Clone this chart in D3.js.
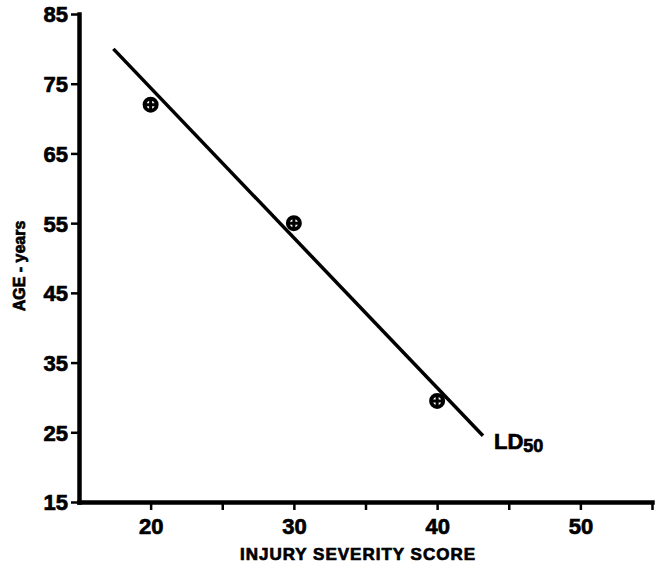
<!DOCTYPE html>
<html>
<head>
<meta charset="utf-8">
<script src="https://cdn.jsdelivr.net/npm/d3@7"></script>
<style>
  body { margin: 0; background: #fff; }
  text { font-family: "Liberation Sans", Arial, Helvetica, sans-serif; font-weight: bold; fill: #000; stroke: #000; stroke-width: 0.7px; }
</style>
</head>
<body>
<div id="viz"></div>
<script>
// observed points (injury severity score -> age)
var issValues = [20, 30, 40];
var ageValues = [72, 55, 29.5];
// LD50 regression line end points
var lineIss = [17.4, 43.2];
var lineAge = [80, 24.5];
// axis ticks
var xTicks = [20, 25, 30, 35, 40, 45, 50, 55];
var xLabels = [20, 30, 40, 50];
var yTicks = [15, 25, 35, 45, 55, 65, 75, 85];

var width = 657, height = 564;

var svg = d3.select("#viz").append("svg")
  .attr("width", width)
  .attr("height", height);

// scales
var xScale = d3.scaleLinear().domain([15, 55]).range([79, 652]);
var yScale = d3.scaleLinear().domain([15, 85]).range([502, 14]);

// x-axis
var xAxis = d3.axisBottom(xScale)
  .tickValues(xTicks)
  .tickSizeOuter(0)
  .tickSizeInner(8)
  .tickPadding(8)
  .tickFormat(function (d) { return xLabels.indexOf(d) >= 0 ? d : ""; });

var gx = svg.append("g")
  .attr("transform", "translate(0," + yScale(15) + ")")
  .call(xAxis);

// y-axis
var yAxis = d3.axisLeft(yScale)
  .tickValues(yTicks)
  .tickSizeOuter(0)
  .tickSizeInner(8)
  .tickPadding(3);

var gy = svg.append("g")
  .attr("transform", "translate(" + xScale(15) + ",0)")
  .call(yAxis);

// restyle both axes
[gx, gy].forEach(function (g) {
  g.attr("font-size", null).attr("font-family", null);
  g.select(".domain").attr("stroke", "#000").attr("stroke-width", 4.5).attr("stroke-linecap", "square");
  g.selectAll(".tick line").attr("stroke", "#000").attr("stroke-width", 2.5);
  g.selectAll(".tick text").style("font-size", "22px");
});
gx.selectAll(".tick text").attr("dy", "0.71em");
gy.selectAll(".tick text").attr("dy", "0.36em");

// axis titles
svg.append("text")
  .attr("x", 358)
  .attr("y", 560)
  .style("text-anchor", "middle")
  .style("font-size", "17px")
  .style("letter-spacing", "1px")
  .text("INJURY SEVERITY SCORE");

svg.append("text")
  .attr("transform", "translate(25,266) rotate(-90)")
  .style("text-anchor", "middle")
  .style("font-size", "16px")
  .text("AGE - years");

// LD50 line
svg.append("line")
  .attr("x1", xScale(lineIss[0]))
  .attr("y1", yScale(lineAge[0]))
  .attr("x2", xScale(lineIss[1]))
  .attr("y2", yScale(lineAge[1]))
  .attr("stroke", "#000")
  .attr("stroke-width", 3.5);

var ld = svg.append("text")
  .attr("x", xScale(lineIss[1]) + 11)
  .attr("y", yScale(lineAge[1]) + 13)
  .style("font-size", "22px");
ld.append("tspan").text("LD");
ld.append("tspan").attr("dy", 3).style("font-size", "18px").text("50");

// data points: circle with cross
var pts = svg.selectAll(".pt")
  .data(issValues)
  .enter().append("g")
  .attr("class", "pt")
  .attr("transform", function (d, i) { return "translate(" + xScale(d) + "," + yScale(ageValues[i]) + ")"; });

pts.append("circle")
  .attr("r", 6)
  .attr("fill", "#fff")
  .attr("stroke", "#000")
  .attr("stroke-width", 4);
pts.append("path")
  .attr("d", "M-6,0H6M0,-6V6")
  .attr("stroke", "#000")
  .attr("stroke-width", 3);
</script>
</body>
</html>
